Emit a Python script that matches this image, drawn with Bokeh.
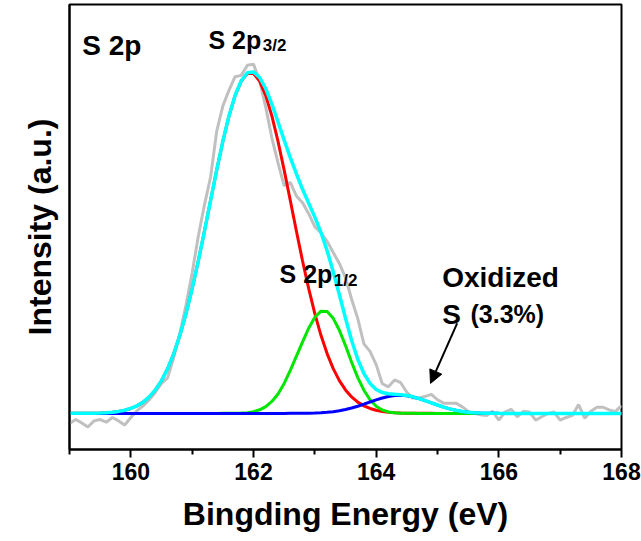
import numpy as np
from bokeh.plotting import figure
from bokeh.models import Range1d, Label, Arrow, NormalHead, FixedTicker
from bokeh.embed import file_html
from bokeh.resources import INLINE

# Binding-energy grid of the scan (eV)
energy = np.round(np.arange(159.0, 168.05, 0.1), 1)

# Measured S 2p spectrum (normalised intensity)
measured = [
    -0.030, -0.018, -0.028, -0.040, -0.022, -0.018, -0.026, -0.012, -0.022, -0.034,
    -0.012, 0.008, 0.022, 0.040, 0.062, 0.088, 0.104, 0.165, 0.235, 0.318,
    0.412, 0.520, 0.612, 0.693, 0.828, 0.902, 0.948, 0.988, 0.992, 1.022,
    1.025, 0.975, 0.898, 0.808, 0.735, 0.668, 0.678, 0.638, 0.618, 0.586,
    0.548, 0.530, 0.505, 0.472, 0.440, 0.398, 0.335, 0.278, 0.204, 0.182,
    0.143, 0.087, 0.078, 0.098, 0.090, 0.062, 0.045, 0.045, 0.050, 0.056,
    0.040, 0.030, 0.030, 0.030, 0.020, 0.006, 0.000, -0.004, -0.006, 0.006,
    -0.020, 0.004, 0.012, -0.010, 0.006, 0.004, -0.020, -0.010, 0.000, 0.004,
    -0.020, -0.012, -0.006, 0.026, -0.014, 0.006, 0.018, 0.018, 0.010, 0.005,
    0.023,
]

# Fitted components
s2p32 = [
    0.0001, 0.0001, 0.0002, 0.0004, 0.0007, 0.0012, 0.0021, 0.0036, 0.0058, 0.0093,
    0.0145, 0.0221, 0.0330, 0.0482, 0.0688, 0.0962, 0.1313, 0.1755, 0.2292, 0.2929,
    0.3660, 0.4472, 0.5344, 0.6246, 0.7140, 0.7981, 0.8725, 0.9328, 0.9753, 0.9972,
    0.9972, 0.9753, 0.9328, 0.8725, 0.7981, 0.7140, 0.6246, 0.5344, 0.4472, 0.3660,
    0.2929, 0.2292, 0.1755, 0.1313, 0.0962, 0.0688, 0.0482, 0.0330, 0.0221, 0.0145,
    0.0093, 0.0058, 0.0036, 0.0021, 0.0012, 0.0007, 0.0004, 0.0002, 0.0001, 0.0001,
    0, 0, 0, 0, 0, 0, 0, 0, 0, 0,
    0, 0, 0, 0, 0, 0, 0, 0, 0, 0,
    0, 0, 0, 0, 0, 0, 0, 0, 0, 0,
    0,
]
s2p12 = [
    0, 0, 0, 0, 0, 0, 0, 0, 0, 0,
    0, 0, 0, 0, 0, 0, 0, 0, 0, 0,
    0, 0, 0, 0, 0, 0.0001, 0.0002, 0.0004, 0.0010, 0.0022,
    0.0050, 0.0105, 0.0200, 0.0350, 0.0570, 0.0880, 0.1260, 0.1680, 0.2100, 0.2500,
    0.2820, 0.3000, 0.2990, 0.2790, 0.2440, 0.1990, 0.1500, 0.1050, 0.0680, 0.0400,
    0.0210, 0.0100, 0.0043, 0.0017, 0.0006, 0.0002, 0.0001, 0, 0, 0,
    0, 0, 0, 0, 0, 0, 0, 0, 0, 0,
    0, 0, 0, 0, 0, 0, 0, 0, 0, 0,
    0, 0, 0, 0, 0, 0, 0, 0, 0, 0,
    0,
]
oxidized = [
    0, 0, 0, 0, 0, 0, 0, 0, 0, 0,
    0, 0, 0, 0, 0, 0, 0, 0, 0, 0,
    0, 0, 0, 0, 0, 0, 0, 0, 0, 0,
    0, 0, 0, 0, 0, 0, 0.0001, 0.0002, 0.0004, 0.0007,
    0.0012, 0.0020, 0.0033, 0.0051, 0.0078, 0.0113, 0.0157, 0.0210, 0.0270, 0.0334,
    0.0397, 0.0453, 0.0497, 0.0523, 0.0530, 0.0515, 0.0481, 0.0432, 0.0372, 0.0309,
    0.0246, 0.0185, 0.0132, 0.0090, 0.0058, 0.0035, 0.0020, 0.0011, 0.0006, 0.0003,
    0.0001, 0, 0, 0, 0, 0, 0, 0, 0, 0,
    0, 0, 0, 0, 0, 0, 0, 0, 0, 0,
    0,
]
envelope = np.array(s2p32) + np.array(s2p12) + np.array(oxidized)

major_ticks = [160, 162, 164, 166, 168]
minor_ticks = [159, 161, 163, 165, 167]

FONT = "Liberation Sans"

p = figure(width=641, height=541, output_backend="svg", toolbar_location=None,
           x_range=Range1d(159, 168), y_range=Range1d(-0.106, 1.2),
           min_border_left=69, min_border_right=20, min_border_top=4,
           min_border_bottom=92)
p.xgrid.visible = False
p.ygrid.visible = False
p.outline_line_color = "black"
p.outline_line_width = 2
p.outline_line_alpha = 1

p.line(energy, measured, line_color="#c0c0c0", line_width=3)
p.line(energy, s2p32, line_color="#ff0000", line_width=3)
p.line(energy, s2p12, line_color="#00e600", line_width=3)
p.line(energy, oxidized, line_color="#0000ff", line_width=3)
p.line(energy, envelope, line_color="#00ffff", line_width=3.5)

xa = p.xaxis[0]
xa.ticker = FixedTicker(ticks=major_ticks, minor_ticks=minor_ticks)
xa.axis_label = "Bingding Energy (eV)"
xa.axis_label_text_font = FONT
xa.axis_label_text_font_style = "bold"
xa.axis_label_text_font_size = "32px"
xa.axis_label_text_color = "black"
xa.axis_label_standoff = 13
xa.major_label_text_font = FONT
xa.major_label_text_font_style = "bold"
xa.major_label_text_font_size = "23px"
xa.major_label_text_color = "black"
xa.major_label_standoff = 5
xa.axis_line_color = "black"
xa.axis_line_width = 2
xa.major_tick_line_color = "black"
xa.minor_tick_line_color = "black"
xa.major_tick_line_width = 2
xa.minor_tick_line_width = 2
xa.major_tick_in = 0
xa.major_tick_out = 8
xa.minor_tick_in = 0
xa.minor_tick_out = 5

# y axis carries only its title: tick marks and numbers are hidden
ya = p.yaxis[0]
ya.major_label_text_alpha = 0
ya.major_tick_line_color = None
ya.minor_tick_line_color = None
ya.major_tick_in = 0
ya.major_tick_out = 0
ya.minor_tick_in = 0
ya.minor_tick_out = 0
ya.major_label_standoff = 0
ya.major_label_text_font_size = "1px"
ya.axis_line_color = "black"
ya.axis_line_width = 2
ya.axis_label = "Intensity (a.u.)"
ya.axis_label_text_font = FONT
ya.axis_label_text_font_style = "bold"
ya.axis_label_text_font_size = "32px"
ya.axis_label_text_color = "black"
ya.axis_label_standoff = 12


def label(x, y, text, size):
    p.add_layout(Label(x=x, y=y, text=text, text_font=FONT,
                       text_font_style="bold", text_font_size=size,
                       text_color="black", text_baseline="alphabetic"))


label(159.207, 1.079, "S 2p", "28px")
label(161.266, 1.097, "S 2p", "25px")
label(162.15, 1.079, "3/2", "17px")
label(162.424, 0.4076, "S 2p", "25px")
label(163.31, 0.390, "1/2", "17px")
label(165.077, 0.3997, "Oxidized", "28px")
label(165.077, 0.2903, "S", "28px")
label(165.538, 0.2903, "(3.3%)", "25px")

p.add_layout(Arrow(end=NormalHead(size=13, fill_color="black", line_color="black"),
                   x_start=165.32, y_start=0.264, x_end=164.886, y_end=0.088,
                   line_color="black", line_width=2))

open("out.html", "w").write(file_html(p, INLINE))
